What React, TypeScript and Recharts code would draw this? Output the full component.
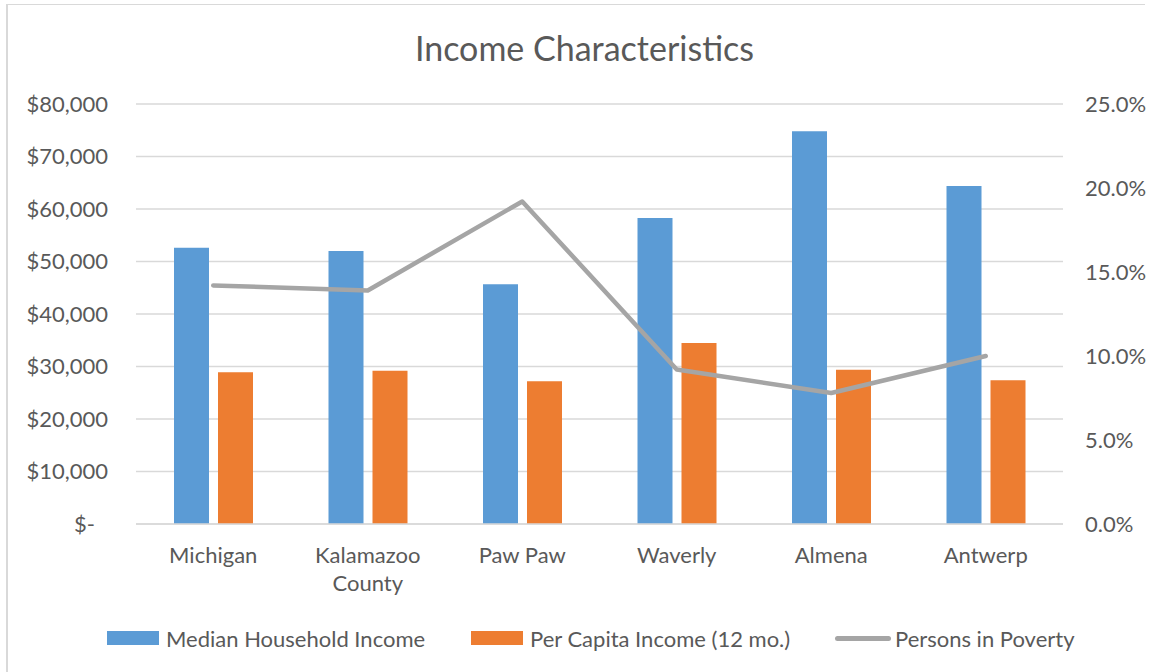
import React from "react";
import {
  ComposedChart,
  Bar,
  Line,
  XAxis,
  YAxis,
  CartesianGrid,
} from "recharts";

const categories = ["Michigan", "Kalamazoo County", "Paw Paw", "Waverly", "Almena", "Antwerp"];
const medianIncome = [52600, 52000, 45650, 58300, 74800, 64400];
const perCapitaIncome = [28900, 29200, 27200, 34500, 29400, 27400];
const povertyRate = [0.142, 0.139, 0.192, 0.092, 0.078, 0.1];

const leftTicks = [0, 10000, 20000, 30000, 40000, 50000, 60000, 70000, 80000];
const rightTicks = [0, 0.05, 0.1, 0.15, 0.2, 0.25];

const data = categories.map((name, i) => ({
  name,
  median: medianIncome[i],
  perCapita: perCapitaIncome[i],
  poverty: povertyRate[i],
}));

const INK = "#595959";
const GRID = "#d9d9d9";
const FONT = "Lato, 'Open Sans', sans-serif";
const FS = 22;
const BLUE = "#5b9bd5";
const ORANGE = "#ed7d31";
const GRAY = "#a5a5a5";

function LeftTick({ x, y, payload }: any) {
  const v = payload.value as number;
  const label = v === 0 ? "$-" : "$" + v.toLocaleString("en-US");
  return (
    <text x={v === 0 ? x - 13 : x} y={y} dy="0.36em" textAnchor="end" fill={INK} fontSize={FS} fontFamily={FONT}>
      {label}
    </text>
  );
}

function RightTick({ x, y, payload }: any) {
  return (
    <text x={x} y={y} dy="0.36em" textAnchor="start" fill={INK} fontSize={FS} fontFamily={FONT}>
      {(payload.value * 100).toFixed(1) + "%"}
    </text>
  );
}

function CatTick({ x, y, payload }: any) {
  const s = payload.value as string;
  const lines = s.length > 10 ? s.split(" ") : [s];
  return (
    <text x={x} y={y} textAnchor="middle" fill={INK} fontSize={FS} fontFamily={FONT}>
      {lines.map((l, i) => (
        <tspan key={i} x={x} dy={i === 0 ? 39 : 28}>
          {l}
        </tspan>
      ))}
    </text>
  );
}

const legendItems = [
  { label: "Median Household Income", color: BLUE, kind: "box", left: 107 },
  { label: "Per Capita Income (12 mo.)", color: ORANGE, kind: "box", left: 471 },
  { label: "Persons in Poverty", color: GRAY, kind: "line", left: 835 },
];

function ChartLegend() {
  return (
    <div style={{ position: "absolute", left: 0, top: 623, width: 1153, height: 30, fontFamily: FONT, fontSize: FS, color: INK }}>
      {legendItems.map((it) => (
        <div
          key={it.label}
          style={{ position: "absolute", left: it.left, top: 0, height: 30, display: "flex", alignItems: "center" }}
        >
          {it.kind === "box" ? (
            <span style={{ display: "inline-block", width: 52, height: 14, background: it.color, marginRight: 7 }} />
          ) : (
            <span
              style={{ display: "inline-block", width: 56, height: 5, borderRadius: 3, background: it.color, marginRight: 4 }}
            />
          )}
          <span style={{ whiteSpace: "nowrap" }}>{it.label}</span>
        </div>
      ))}
    </div>
  );
}

export default function App() {
  return (
    <div
      style={{
        position: "fixed",
        left: 0,
        top: 0,
        width: 1153,
        height: 672,
        background: "#fff",
        overflow: "hidden",
      }}
    >
      <div
        style={{
          position: "absolute",
          left: 6,
          top: 4,
          width: 1137,
          height: 700,
          borderLeft: `2px solid ${GRID}`,
          borderTop: `1.5px solid ${GRID}`,
        }}
      />
      <div
        style={{
          position: "absolute",
          left: 0,
          width: 1169,
          top: 30,
          lineHeight: "36px",
          textAlign: "center",
          fontFamily: FONT,
          fontSize: 34,
          color: INK,
        }}
      >
        Income Characteristics
      </div>
      <ComposedChart
        width={1153}
        height={672}
        data={data}
        margin={{ top: 104, right: 0, bottom: 118, left: 0 }}
        barSize={35}
        barGap={9}
        style={{ position: "absolute", left: 0, top: 0 }}
      >
        <CartesianGrid vertical={false} stroke={GRID} strokeWidth={1.3} yAxisId="left" />
        <XAxis
          dataKey="name"
          height={30}
          axisLine={{ stroke: GRID, strokeWidth: 1.5 }}
          tickLine={false}
          tickSize={0}
          tickMargin={0}
          interval={0}
          tick={<CatTick />}
        />
        <YAxis
          yAxisId="left"
          orientation="left"
          width={136}
          domain={[0, 80000]}
          ticks={leftTicks}
          axisLine={false}
          tickLine={false}
          tickSize={0}
          tickMargin={28}
          tick={<LeftTick />}
        />
        <YAxis
          yAxisId="right"
          orientation="right"
          width={90}
          domain={[0, 0.25]}
          ticks={rightTicks}
          axisLine={false}
          tickLine={false}
          tickSize={0}
          tickMargin={22}
          tick={<RightTick />}
        />
        <Bar yAxisId="left" dataKey="median" name="Median Household Income" fill={BLUE} isAnimationActive={false} />
        <Bar yAxisId="left" dataKey="perCapita" name="Per Capita Income (12 mo.)" fill={ORANGE} isAnimationActive={false} />
        <Line
          yAxisId="right"
          dataKey="poverty"
          name="Persons in Poverty"
          stroke={GRAY}
          strokeWidth={4.5}
          strokeLinecap="round"
          strokeLinejoin="round"
          dot={false}
          activeDot={false}
          type="linear"
          isAnimationActive={false}
        />
      </ComposedChart>
      <ChartLegend />
    </div>
  );
}
